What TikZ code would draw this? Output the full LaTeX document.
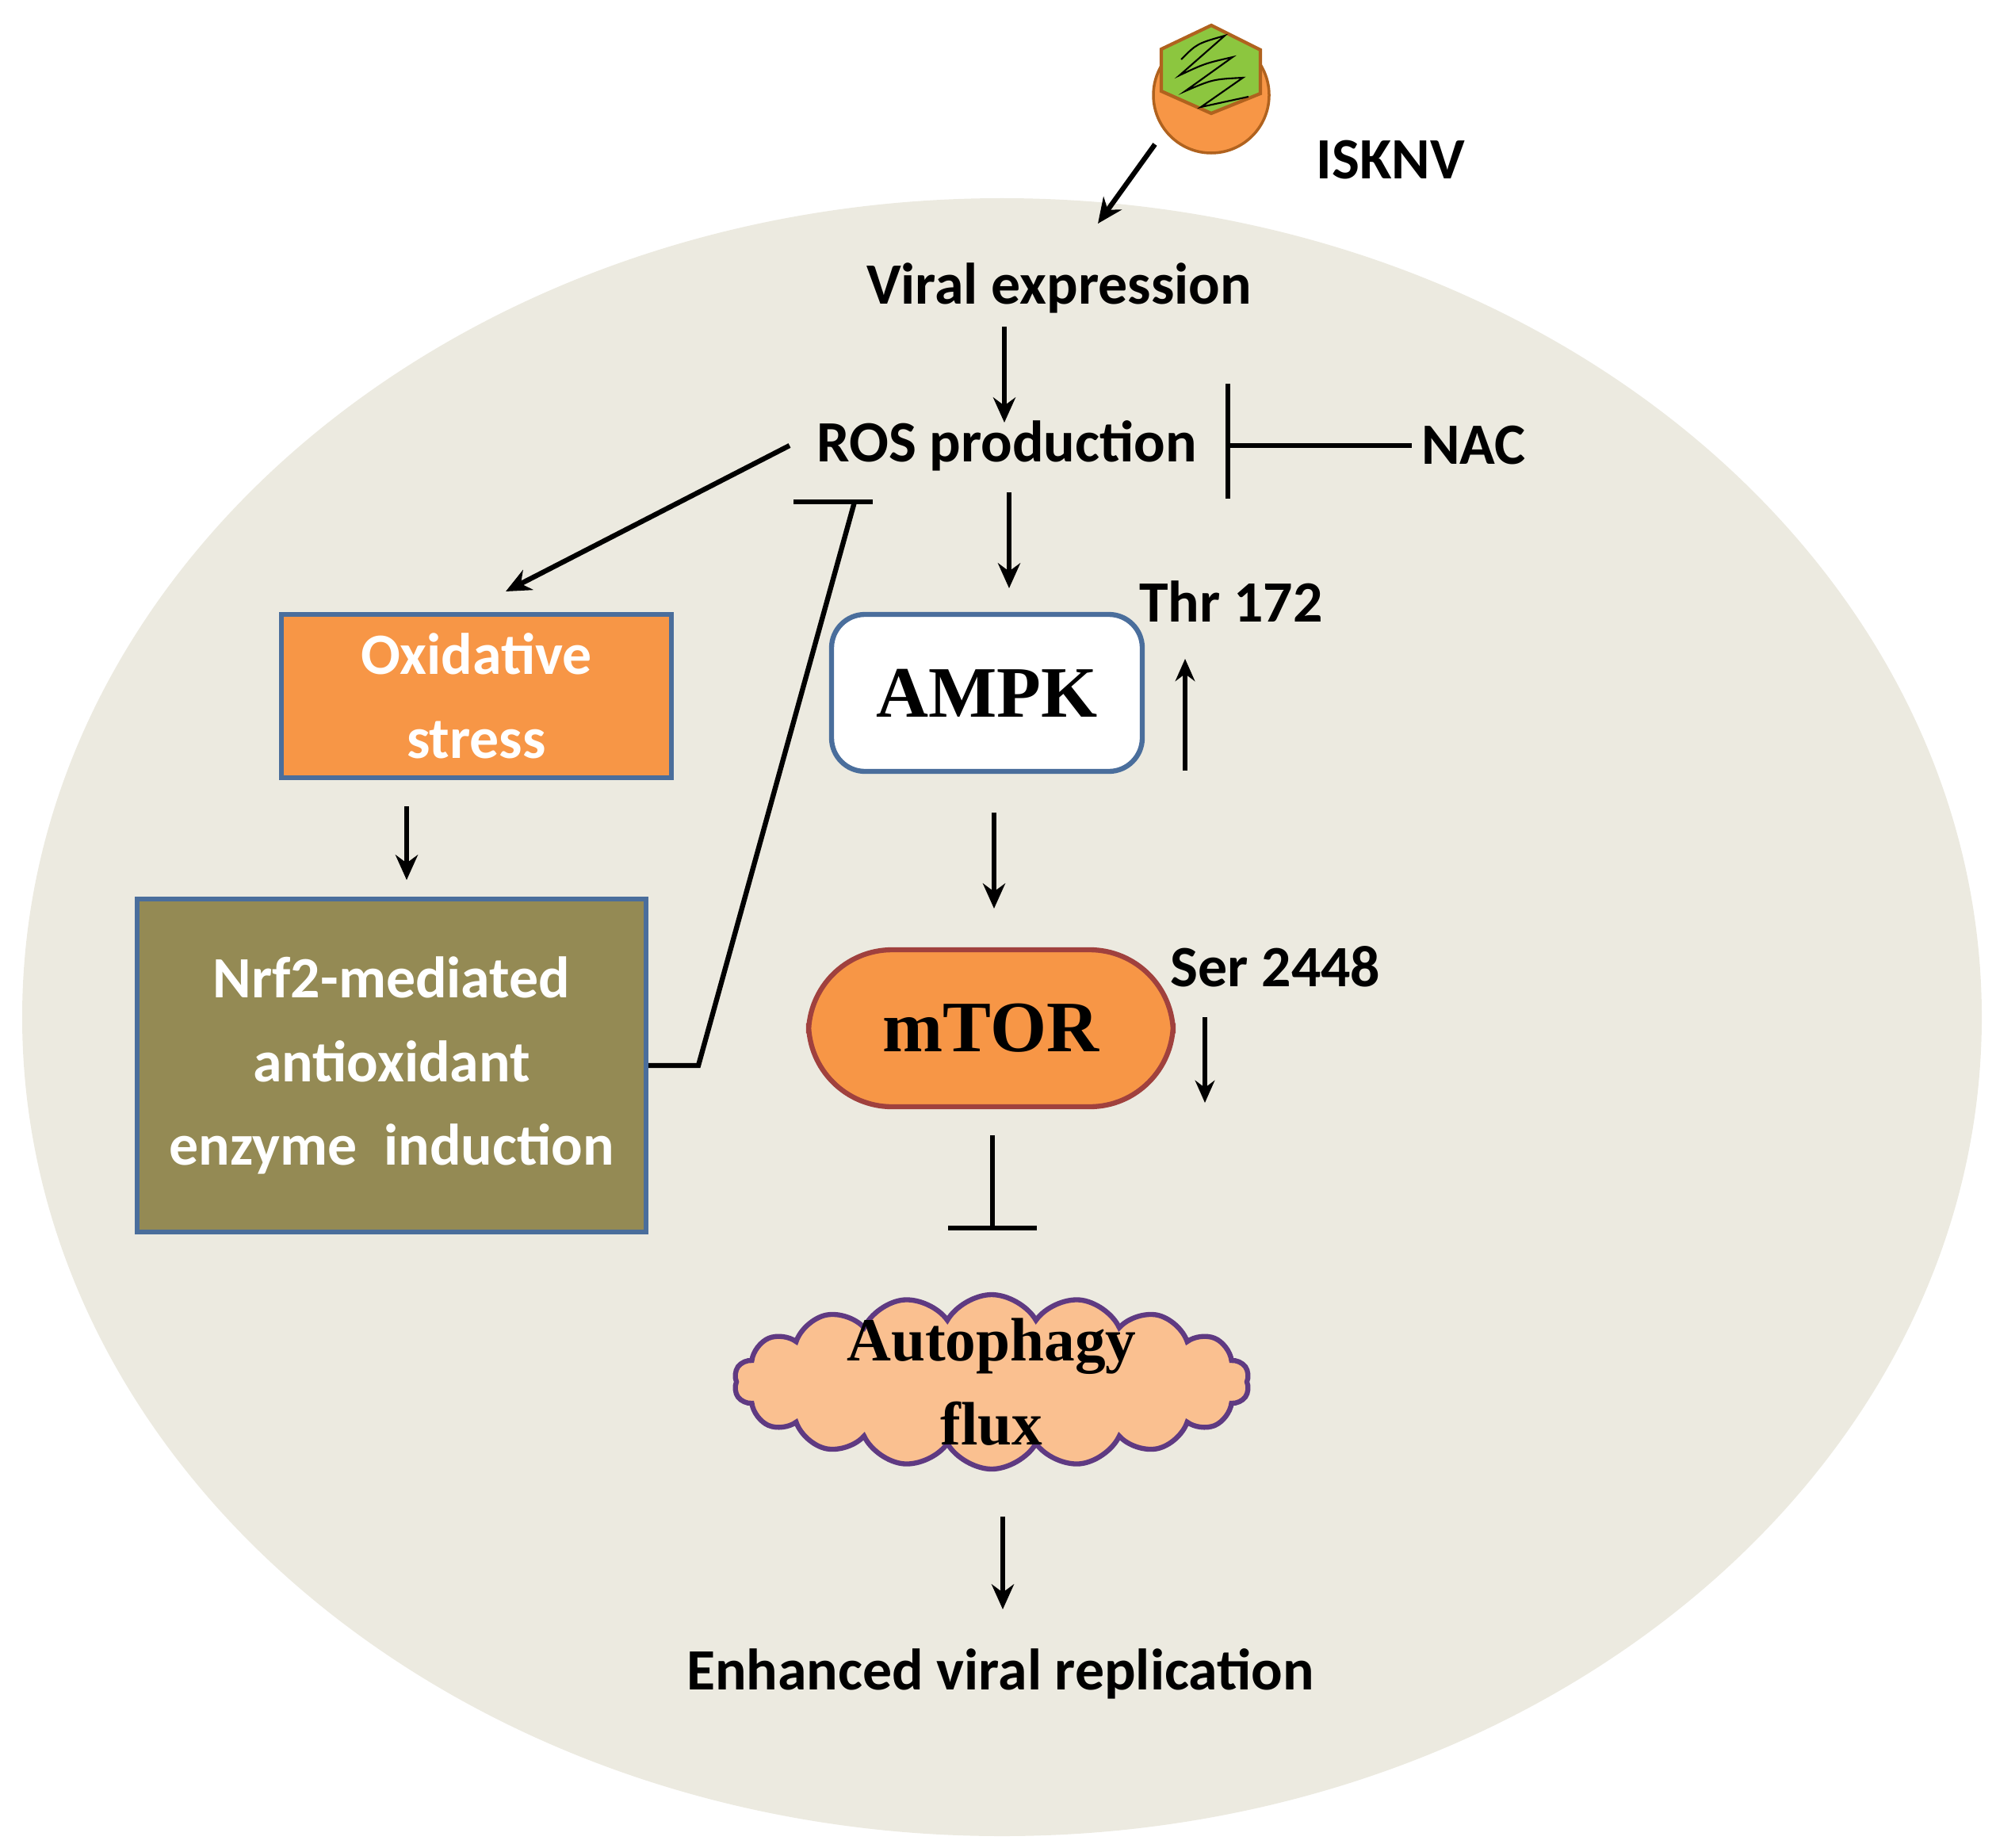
\documentclass[tikz,border=0pt]{standalone}
\usepackage{fontspec}
\setmainfont{Carlito}
\newfontfamily\serifbf{Liberation Serif}
\usetikzlibrary{shapes.symbols,arrows.meta}
\definecolor{cellbg}{HTML}{ECEAE0}
\definecolor{boxorange}{HTML}{F79646}
\definecolor{boxolive}{HTML}{948A54}
\definecolor{boxblue}{HTML}{4A6E9C}
\definecolor{torred}{HTML}{A0413E}
\definecolor{cloudfill}{HTML}{FAC090}
\definecolor{cloudline}{HTML}{5F3A82}
\definecolor{virgreen}{HTML}{8CC63F}
\definecolor{virbrown}{HTML}{B0621E}
\tikzset{
  lbl/.style={font=\fontsize{21}{25}\selectfont\bfseries},
  act/.style={line width=1.8pt,-{Stealth[length=9pt,width=8pt]}},
  inh/.style={line width=1.8pt},
  box/.style={draw=boxblue,line width=1.8pt,text=white,align=center,font=\fontsize{21}{34}\selectfont\bfseries}
}
\begin{document}
\begin{tikzpicture}
            \useasboundingbox (0,0) rectangle (25.18,-23.30);
            \fill[cellbg] (12.64,-12.83) ellipse (12.36 and 10.33);

            %virus
            \fill[boxorange,draw=virbrown,line width=1pt] (15.28,-1.20) circle (0.73);
            \draw[fill=virgreen,draw=virbrown,line width=1.2pt] (15.28,-0.32) -- (14.65,-0.62) -- (14.65,-1.15)
                 -- (15.28,-1.43) -- (15.90,-1.18) -- (15.90,-0.63) -- cycle;
            \draw[line width=0.6pt] (14.90,-0.75) .. controls (15.1,-0.55) .. (15.45,-0.45)
                 -- (14.88,-0.95) .. controls (15.2,-0.8) .. (15.55,-0.72)
                 -- (14.95,-1.15) .. controls (15.3,-1.0) .. (15.68,-0.98)
                 -- (15.15,-1.35) -- (15.75,-1.22);
            \node[lbl] (isknv) at (17.54,-2.02) {ISKNV};
            \coordinate (vir) at (14.57,-1.82);

            %main pathway
            \node[lbl] (vexp) at (13.36,-3.63) {Viral expression};
            \node[lbl] (ros) at (12.70,-5.62) {ROS production};
            \node[lbl] (nac) at (18.59,-5.62) {NAC};
            \node[draw=boxblue,line width=1.8pt,fill=white,rounded corners=12pt,minimum width=3.92cm,minimum height=1.98cm,font=\fontsize{26}{30}\selectfont\serifbf\bfseries] (ampk) at (12.45,-8.74) {AMPK};
            \node[draw=torred,line width=1.8pt,fill=boxorange,rounded corners=30pt,minimum width=4.6cm,minimum height=1.98cm,font=\fontsize{26}{30}\selectfont\serifbf\bfseries] (mtor) at (12.50,-12.97) {mTOR};
            \node[cloud,cloud puffs=18,cloud puff arc=120,aspect=3.2,draw=cloudline,line width=1.8pt,fill=cloudfill,minimum width=6.5cm,minimum height=2.2cm] (cloudshape) at (12.51,-17.43) {};
            \node[align=center,font=\fontsize{22}{30}\selectfont\serifbf\bfseries] (auto) at (cloudshape.center) {Autophagy\\flux};
            \node[lbl] (enh) at (12.62,-21.11) {Enhanced viral replication};

            %side labels
            \node[lbl] (thr) at (15.53,-7.59) {Thr 172};
            \node[lbl] (ser) at (16.09,-12.19) {Ser 2448};
            \coordinate (thrA) at (14.95,-9.72);
            \coordinate (thrB) at (14.95,-8.31);
            \coordinate (serA) at (15.20,-12.83);
            \coordinate (serB) at (15.20,-13.91);

            %boxes
            \node[box,fill=boxorange,minimum width=4.92cm,minimum height=2.06cm,font=\fontsize{21}{30}\selectfont\bfseries] (ox) at (6.01,-8.78) {Oxidative\\stress};
            \node[box,fill=boxolive,minimum width=6.42cm,minimum height=4.2cm,font=\fontsize{21}{30}\selectfont\bfseries] (nrf) at (4.94,-13.44) {Nrf2-mediated\\antioxidant\\enzyme\ \ induction};

            %arrows
            \draw[act] (vir) -- (13.85,-2.82);
            \draw[act] (12.67,-4.12) -- (12.67,-5.33);
            \draw[act] (9.96,-5.62) -- (6.38,-7.46);
            \draw[act] (5.13,-10.17) -- (5.13,-11.10);
            \draw[act] (12.73,-6.21) -- (12.73,-7.42);
            \draw[act] (12.54,-10.25) -- (12.54,-11.46);
            \draw[act] (12.65,-19.13) -- (12.65,-20.30);
            \draw[act,-{Stealth[length=8pt,width=7pt]}] (thrA) -- (thrB);
            \draw[act,-{Stealth[length=8pt,width=7pt]}] (serA) -- (serB);

            %inhibitions
            \draw[inh] (nac.west) -- (nac.west -| 15.49,0);
            \draw[inh] (15.49,-4.84) -- (15.49,-6.29);
            \draw[inh] (nrf.east) -- (8.81,-13.44) -- (10.78,-6.33);
            \draw[inh] (10.01,-6.33) -- (11.01,-6.33);
            \draw[inh] (12.52,-14.32) -- (12.52,-15.49);
            \draw[inh] (11.96,-15.49) -- (13.08,-15.49);
\end{tikzpicture}
\end{document}
